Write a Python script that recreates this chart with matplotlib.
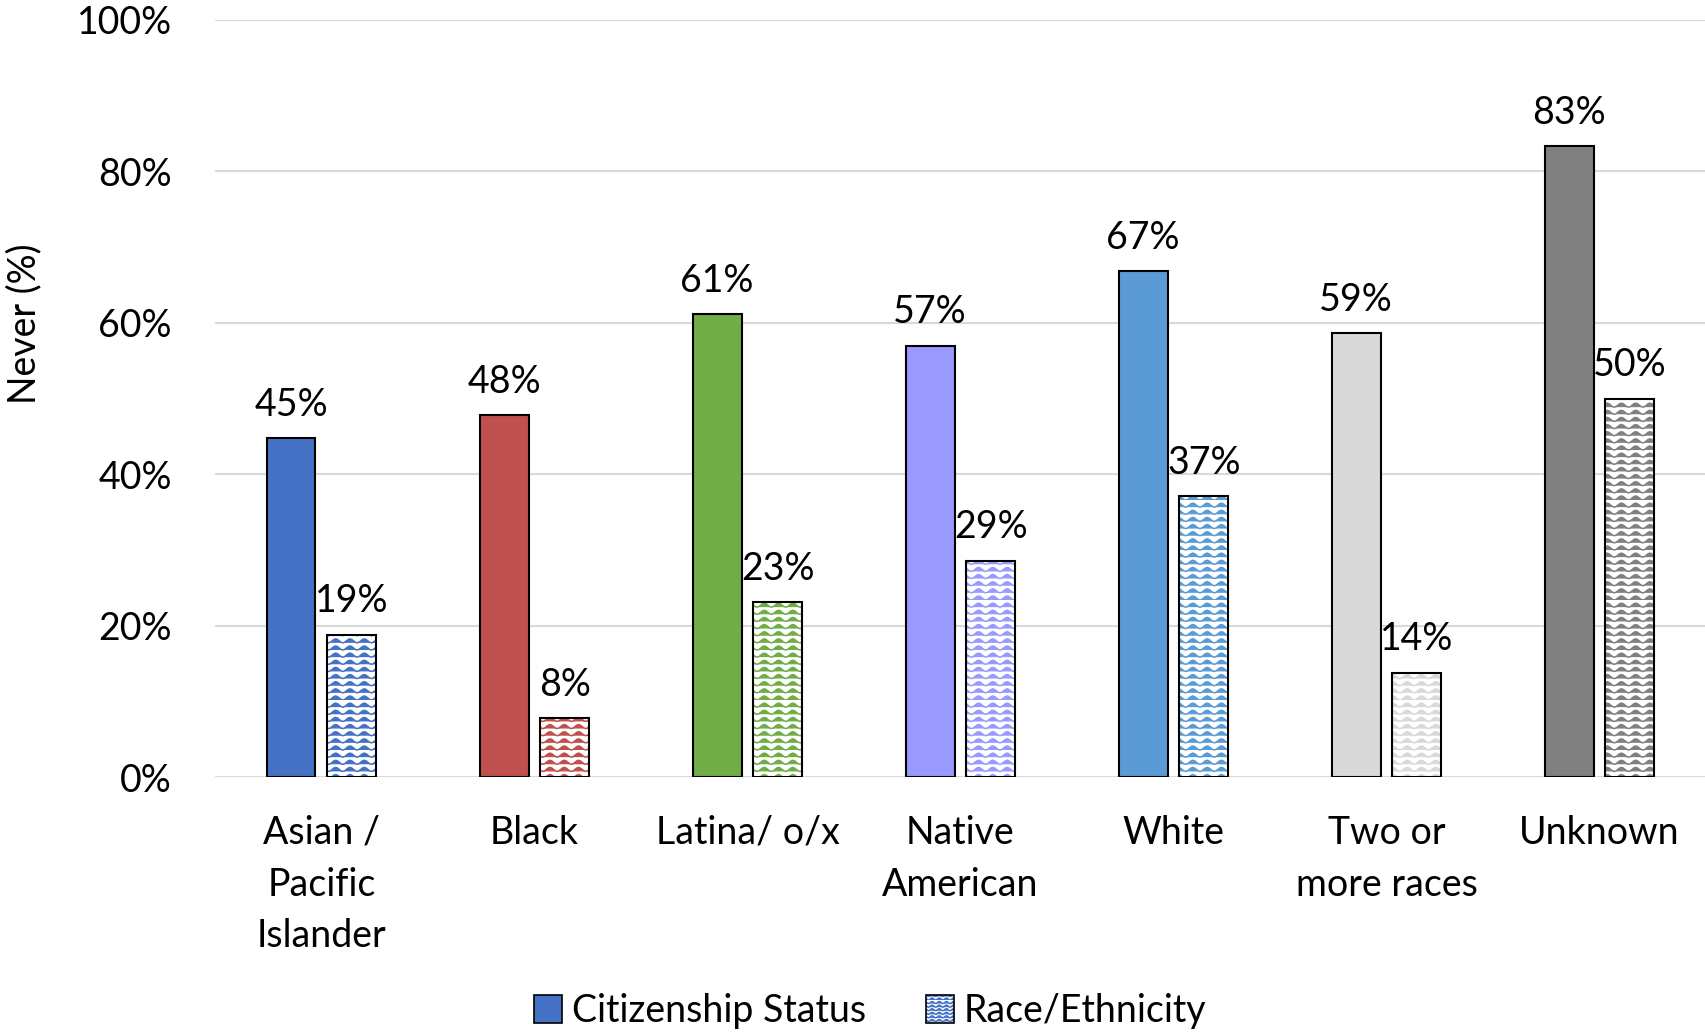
import warnings
warnings.filterwarnings("ignore")
import numpy as np
import matplotlib
matplotlib.use("Agg")
import matplotlib.pyplot as plt
from matplotlib.patches import Patch
from matplotlib.legend_handler import HandlerTuple
from matplotlib import hatch as mhatch
from matplotlib.path import Path

# ---- data ----
categories = ["Asian /\nPacific\nIslander", "Black", "Latina/ o/x", "Native\nAmerican",
              "White", "Two or\nmore races", "Unknown"]
citizenship = [44.8, 47.8, 61.1, 57.0, 66.8, 58.6, 83.3]
race_eth = [18.8, 7.8, 23.1, 28.6, 37.1, 13.8, 50.0]
colors = ["#4472C4", "#C0504D", "#70AD47", "#9999FF", "#5B9BD5", "#D9D9D9", "#808080"]
series_names = ["Citizenship Status", "Race/Ethnicity"]
yticks = [0, 20, 40, 60, 80, 100]


# ---- custom wave hatch ('z') ----
class WaveHatch(mhatch.HatchPatternBase):
    def __init__(self, hatch, density):
        n = hatch.count('z')
        self.rows = 14 * n
        self.periods = 7 * n
        self.pts = 8 * self.periods + 1
        self.num_vertices = self.rows * self.pts if n else 0

    def set_vertices_and_codes(self, vertices, codes):
        t = np.linspace(0, 1, self.pts)
        amp = 0.28 / self.rows
        wave = amp * (1 - np.cos(2 * np.pi * self.periods * t))
        k = 0
        for r in range(self.rows):
            y0 = r / self.rows
            vertices[k:k + self.pts, 0] = t
            vertices[k:k + self.pts, 1] = y0 + wave
            codes[k] = Path.MOVETO
            codes[k + 1:k + self.pts] = Path.LINETO
            k += self.pts


mhatch._hatch_types.append(WaveHatch)

plt.rcParams['font.family'] = ['Lato', 'DejaVu Sans']
plt.rcParams['hatch.linewidth'] = 1.1

fig = plt.figure(figsize=(17.06, 10.34), dpi=100)
ax = fig.add_axes([0.126, 0.2485, 0.874, 0.7322])

x = np.arange(len(categories))
w = 0.23
off = 0.143
fs = 27

ax.bar(x - off, citizenship, w, color=colors, edgecolor='black', linewidth=1.5, zorder=3)
ax.bar(x + off, race_eth, w, color='white', edgecolor=colors, hatch='z', linewidth=0, zorder=3)
ax.bar(x + off, race_eth, w, fill=False, edgecolor='black', linewidth=1.5, zorder=4)

for xi, v in zip(x - off, citizenship):
    ax.annotate(f"{v:.0f}%", (xi, v), xytext=(0, 11), textcoords='offset points',
                ha='center', va='bottom', fontsize=fs)
for xi, v in zip(x + off, race_eth):
    ax.annotate(f"{v:.0f}%", (xi, v), xytext=(0, 11), textcoords='offset points',
                ha='center', va='bottom', fontsize=fs)

ax.set_xlim(-0.5, len(categories) - 0.5)
ax.set_ylim(0, 100)
ax.set_yticks(yticks)
ax.set_yticklabels([f"{t}%" for t in yticks], fontsize=fs)
ax.set_xticks(x)
ax.set_xticklabels(categories, fontsize=fs, linespacing=1.55)
ax.tick_params(axis='both', length=0)
ax.tick_params(axis='y', pad=31)
ax.tick_params(axis='x', pad=27)
ax.yaxis.grid(True, color='#D9D9D9', linewidth=1.5, zorder=0)
ax.set_axisbelow(True)
for s in ax.spines.values():
    s.set_visible(False)

fig.text(24 / 1706, 1 - 324 / 1034, "Never (%)", rotation=90, ha='center', va='center', fontsize=fs)

h1 = Patch(facecolor=colors[0], edgecolor='black', linewidth=1.2)
h2a = Patch(facecolor='white', edgecolor=colors[0], hatch='zz', linewidth=0)
h2b = Patch(fill=False, edgecolor='black', linewidth=1.2)
fig.legend([h1, (h2a, h2b)], series_names, loc='center', bbox_to_anchor=(0.51, 0.022),
           ncol=2, frameon=False, fontsize=fs, handlelength=0.75, handleheight=0.75,
           handletextpad=0.25, columnspacing=1.6,
           handler_map={tuple: HandlerTuple(ndivide=1, pad=0)})

fig.savefig("out.png", dpi=100)
